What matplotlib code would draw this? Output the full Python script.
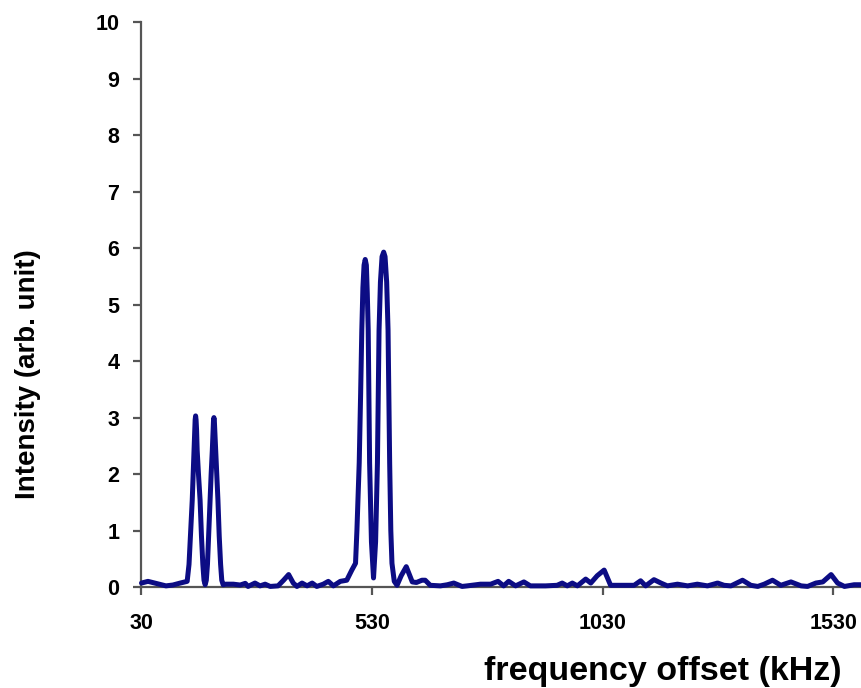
import matplotlib
matplotlib.use("Agg")
import matplotlib.pyplot as plt

# Spectrum samples: frequency offset (kHz) and intensity (arb. unit)
freq = [
    30, 44, 59, 83, 98, 114, 129,
    133, 136, 140, 142, 143.8, 145.2, 146.3, 147.3, 148.3, 149.4, 150.7, 153.5, 157,
    160, 163, 165.5,
    168, 170.5, 173, 175.5, 178.5, 181, 183.5, 185, 186, 187, 188, 189, 190.7, 193,
    195.7, 198.5, 201.5, 204, 207,
    213, 229, 244, 255, 261, 276, 287, 298, 309, 326, 338, 349, 359, 367,
    378, 389, 400, 410, 424, 435, 446, 461, 475, 486,
    494, 497, 502, 505, 507.6, 510, 512.5, 515, 517.5, 519.5, 521.5, 524.5, 528.5,
    533, 537.5, 541.5, 545, 548, 551.5, 555, 558, 561.5, 564.5, 568, 570.5, 573,
    578, 584,
    593, 604, 617, 626, 638, 645, 656, 678, 693, 707, 725, 736, 765, 787,
    803, 815, 826, 841, 859, 873, 906, 931, 942, 953, 964, 975, 993, 1004,
    1018, 1033, 1047, 1069, 1098, 1112, 1123, 1141, 1156, 1170, 1192, 1214,
    1235, 1257, 1279, 1293, 1308, 1333, 1351, 1366, 1380, 1398, 1416, 1438,
    1460, 1474, 1492, 1507, 1525, 1539, 1554, 1575, 1592,
]
intensity = [
    0.07, 0.10, 0.07, 0.02, 0.035, 0.07, 0.1,
    0.4, 0.9, 1.54, 2.0, 2.42, 2.78, 2.96, 3.03, 2.96, 2.78, 2.42, 2.0, 1.54,
    0.9, 0.4, 0.12,
    0.04, 0.12, 0.4, 0.9, 1.54, 2.0, 2.42, 2.75, 2.93, 3.0, 2.93, 2.75, 2.42, 2.0,
    1.54, 0.9, 0.4, 0.12, 0.04,
    0.05, 0.05, 0.035, 0.065, 0.01, 0.07, 0.02, 0.05, 0.01, 0.02, 0.12, 0.22, 0.07, 0.01,
    0.07, 0.02, 0.07, 0.01, 0.05, 0.1, 0.02, 0.1, 0.12, 0.3,
    0.42, 1.0, 2.2, 3.4, 4.55, 5.3, 5.7, 5.8, 5.7, 5.2, 4.55, 2.2, 0.8,
    0.16, 0.8, 2.2, 4.55, 5.4, 5.85, 5.93, 5.85, 5.4, 4.55, 2.2, 1.0, 0.42,
    0.1, 0.03,
    0.2, 0.36, 0.09, 0.08, 0.12, 0.12, 0.03, 0.02, 0.04, 0.07, 0.01, 0.02, 0.05, 0.05,
    0.1, 0.02, 0.1, 0.02, 0.09, 0.02, 0.02, 0.03, 0.07, 0.02, 0.07, 0.02, 0.14, 0.07,
    0.2, 0.3, 0.03, 0.03, 0.03, 0.11, 0.02, 0.13, 0.07, 0.02, 0.05, 0.02,
    0.05, 0.02, 0.07, 0.03, 0.02, 0.12, 0.03, 0.01, 0.05, 0.12, 0.03, 0.09,
    0.02, 0.01, 0.07, 0.09, 0.22, 0.07, 0.01, 0.04, 0.04,
]

x_ticks = [30, 530, 1030, 1530]
y_ticks = list(range(0, 11))

plt.rcParams['font.family'] = ['Liberation Sans', 'DejaVu Sans']

W, H = 862, 688
fig = plt.figure(figsize=(W / 100, H / 100), dpi=100)
left, right, bottom, top = 141.5, 862, 587, 22.3
ax = fig.add_axes([left / W, 1 - bottom / H, (right - left) / W, (bottom - top) / H])

ax.plot(freq, intensity, color='#0c0c84', lw=3.6,
        solid_joinstyle='round', solid_capstyle='round', clip_on=False, zorder=3)

ax.set_xlim(30, 1592)
ax.set_ylim(0, 10)
ax.set_xticks(x_ticks)
ax.set_yticks(y_ticks)

for side in ('top', 'right'):
    ax.spines[side].set_visible(False)
for side in ('left', 'bottom'):
    ax.spines[side].set_color('#555555')
    ax.spines[side].set_linewidth(1.6)

ax.tick_params(axis='both', direction='out', length=6, width=1.6, color='#555555',
               labelsize=15.5, labelcolor='black')
ax.tick_params(axis='y', pad=10)
ax.tick_params(axis='x', pad=13)
for lbl in ax.get_xticklabels() + ax.get_yticklabels():
    lbl.set_fontweight('bold')

fig.text(842 / W, 1 - 671.7 / H, 'frequency offset (kHz)', ha='right', va='center',
         fontsize=24.5, fontweight='bold')
fig.text(28 / W, 1 - 374 / H, 'Intensity (arb. unit)', ha='center', va='center',
         rotation=90, fontsize=20, fontweight='bold')

fig.savefig('out.png', dpi=100)
